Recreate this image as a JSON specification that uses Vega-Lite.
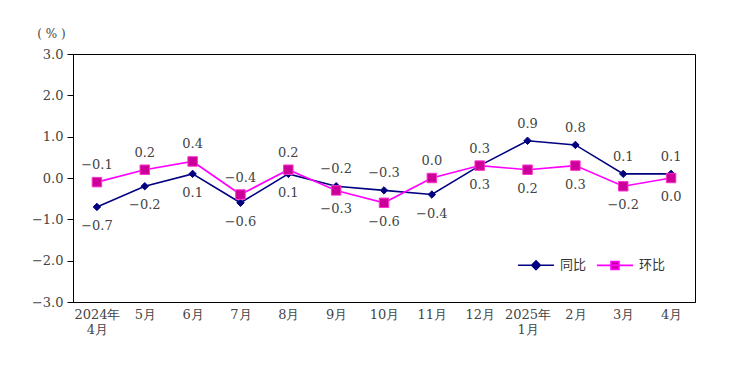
{
  "$schema": "https://vega.github.io/schema/vega-lite/v6.json",
  "width": 622,
  "height": 248,
  "autosize": {"type": "none"},
  "padding": {"left": 73, "top": 54, "right": 47, "bottom": 69},
  "background": "#ffffff",
  "config": {
    "view": {"stroke": "#000000", "strokeWidth": 1},
    "font": "DejaVu Serif"
  },
  "data": {
    "values": [
      {"month": "2024年4月", "series": "同比", "value": -0.7},
      {"month": "5月", "series": "同比", "value": -0.2},
      {"month": "6月", "series": "同比", "value": 0.1},
      {"month": "7月", "series": "同比", "value": -0.6},
      {"month": "8月", "series": "同比", "value": 0.1},
      {"month": "9月", "series": "同比", "value": -0.2},
      {"month": "10月", "series": "同比", "value": -0.3},
      {"month": "11月", "series": "同比", "value": -0.4},
      {"month": "12月", "series": "同比", "value": 0.3},
      {"month": "2025年1月", "series": "同比", "value": 0.9},
      {"month": "2月", "series": "同比", "value": 0.8},
      {"month": "3月", "series": "同比", "value": 0.1},
      {"month": "4月", "series": "同比", "value": 0.1},
      {"month": "2024年4月", "series": "环比", "value": -0.1},
      {"month": "5月", "series": "环比", "value": 0.2},
      {"month": "6月", "series": "环比", "value": 0.4},
      {"month": "7月", "series": "环比", "value": -0.4},
      {"month": "8月", "series": "环比", "value": 0.2},
      {"month": "9月", "series": "环比", "value": -0.3},
      {"month": "10月", "series": "环比", "value": -0.6},
      {"month": "11月", "series": "环比", "value": 0.0},
      {"month": "12月", "series": "环比", "value": 0.3},
      {"month": "2025年1月", "series": "环比", "value": 0.2},
      {"month": "2月", "series": "环比", "value": 0.3},
      {"month": "3月", "series": "环比", "value": -0.2},
      {"month": "4月", "series": "环比", "value": 0.0}
    ]
  },
  "encoding": {
    "x": {
      "field": "month", "type": "ordinal", "sort": null,
      "scale": {"type": "point", "padding": 0.5},
      "axis": {
        "title": null, "labelAngle": 0, "ticks": false, "domainColor": "#000000",
        "labelFont": "DejaVu Serif", "labelFontSize": 13, "labelColor": "#444444",
        "labelPadding": 6, "labelLineHeight": 15, "labelBaseline": "top",
        "labelExpr": "length(datum.label) > 4 ? [slice(datum.label, 0, 5), slice(datum.label, 5)] : datum.label"
      }
    },
    "y": {
      "field": "value", "type": "quantitative",
      "scale": {"domain": [-3, 3], "nice": false},
      "axis": {
        "values": [-3, -2, -1, 0, 1, 2, 3], "format": ".1f", "grid": false,
        "tickSize": 6, "tickColor": "#000000", "domainColor": "#000000",
        "labelFont": "DejaVu Serif", "labelFontSize": 13, "labelColor": "#444444",
        "labelPadding": 4,
        "title": "( % )", "titleAngle": 0, "titleAlign": "center", "titleBaseline": "middle",
        "titleX": -22, "titleY": -21, "titleFont": "DejaVu Serif", "titleFontSize": 12,
        "titleFontWeight": "normal", "titleColor": "#444444"
      }
    }
  },
  "layer": [
    {
      "mark": {"type": "line", "strokeWidth": 1.6},
      "encoding": {
        "color": {
          "field": "series", "type": "nominal",
          "scale": {"domain": ["同比", "环比"], "range": ["#000080", "#FF00FF"]},
          "legend": {
            "title": null, "orient": "none", "legendX": 444, "legendY": 192,
            "direction": "horizontal", "symbolSize": 1300, "symbolStrokeWidth": 1.6,
            "labelFont": "Noto Sans CJK SC", "labelFontSize": 13, "labelColor": "#333333",
            "columnPadding": 6, "labelOffset": 5,
            "encode": {
              "symbols": {
                "update": {
                  "shape": {"signal": "datum.value === '同比' ? 'M-1,0H1M0,-0.24L0.24,0L0,0.24L-0.24,0Z' : 'M-1,0H1M-0.22,-0.22H0.22V0.22H-0.22Z'"},
                  "fill": {"signal": "datum.value === '同比' ? '#000080' : '#CC0099'"},
                  "stroke": {"signal": "datum.value === '同比' ? '#000080' : '#FF00FF'"},
                  "fillOpacity": {"value": 1}
                }
              }
            }
          }
        }
      }
    },
    {
      "mark": {"type": "point", "filled": true, "opacity": 1, "strokeWidth": 1},
      "encoding": {
        "shape": {"condition": {"test": "datum.series === '同比'", "value": "diamond"}, "value": "square"},
        "size": {"condition": {"test": "datum.series === '同比'", "value": 55}, "value": 90},
        "fill": {"condition": {"test": "datum.series === '同比'", "value": "#000080"}, "value": "#CC0099"},
        "stroke": {"condition": {"test": "datum.series === '同比'", "value": "#000080"}, "value": "#FF33CC"}
      }
    },
    {
      "transform": [
        {"filter": "(datum.series === '同比') === (indexof(['9月','10月','2025年1月','2月','3月','4月'], datum.month) >= 0)"}
      ],
      "mark": {"type": "text", "dy": -17, "font": "DejaVu Serif", "fontSize": 13, "color": "#444444", "baseline": "middle"},
      "encoding": {"text": {"field": "value", "type": "quantitative", "format": ".1f"}}
    },
    {
      "transform": [
        {"filter": "(datum.series === '同比') !== (indexof(['9月','10月','2025年1月','2月','3月','4月'], datum.month) >= 0)"}
      ],
      "mark": {"type": "text", "dy": 19, "font": "DejaVu Serif", "fontSize": 13, "color": "#444444", "baseline": "middle"},
      "encoding": {"text": {"field": "value", "type": "quantitative", "format": ".1f"}}
    }
  ]
}
